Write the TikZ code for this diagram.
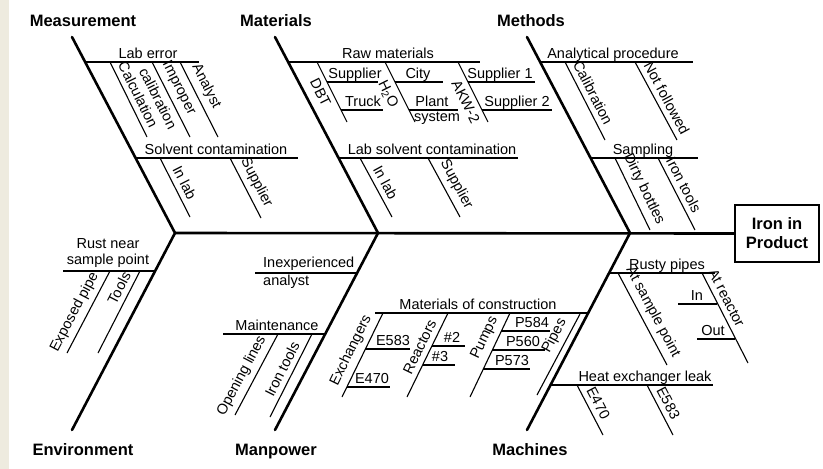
\documentclass[tikz,border=0pt]{standalone}
\usepackage{fontspec}
\setmainfont{Liberation Sans}
\definecolor{strip}{HTML}{EEEBDF}
\begin{document}
\begin{tikzpicture}[x=1pt,y=-1pt,
  bone/.style={line width=2.6pt, line join=round, line cap=round},
  twig/.style={line width=1.1pt},
  lbl/.style={font=\fontsize{14.5}{16.5}\selectfont, inner sep=1pt},
  hl/.style={lbl, anchor=base},
  up/.style={lbl, sloped, above=4pt},
  dn/.style={lbl, sloped, below=4pt},
  cat/.style={font=\bfseries\fontsize{16.5}{19}\selectfont, inner sep=0pt, anchor=base},
]
\useasboundingbox (0,0) rectangle (823,469);
\fill[white] (0,0) rectangle (823,469);
\fill[strip] (0,0) rectangle (9,469);

% main bones
\coordinate (meT) at (72,37);  \coordinate (J1) at (175,233); \coordinate (enB) at (72,430);
\coordinate (maT) at (275,37); \coordinate (J2) at (378,233); \coordinate (mpB) at (275,430);
\coordinate (mtT) at (527,37); \coordinate (J3) at (630,233); \coordinate (mcB) at (527,430);
\node[draw, line width=2pt, minimum width=84pt, minimum height=57pt, align=center,
      font=\bfseries\fontsize{16.5}{19}\selectfont] (eff) at (777,233.5) {Iron in\\Product};
\draw[bone] (meT) -- (J1) -- (enB);
\draw[bone] (maT) -- (J2) -- (mpB);
\draw[bone] (mtT) -- (J3) -- (mcB);
\draw[bone] (J1) -- (eff.west);

% category labels
\node[cat] (cMeas) at (83,26) {Measurement};
\node[cat] (cMat) at (276,26) {Materials};
\node[cat] (cMeth) at (531,26) {Methods};
\node[cat] (cEnv) at (83,455) {Environment};
\node[cat] (cMan) at (276,455) {Manpower};
\node[cat] (cMac) at (530,455) {Machines};

% Measurement
\draw[twig] (86,62) -- (199,62);
\node[hl] (tLab) at (148,58) {Lab error};
\draw[twig] (110,62) -- node[up] (tCalc) {Calculation} (147,137);
\draw[twig] (152,62) -- node[up, pos=.42] (tImp) {Improper} node[dn, pos=.42] (tCalib) {calibration} (190,137);
\draw[twig] (180,62) -- node[up, pos=.4] (tAna) {Analyst} (218,137);
\draw[twig] (136,158) -- (298,158);
\node[hl] (tSolv) at (216,154) {Solvent contamination};
\draw[twig] (160,158) -- node[up] (tInLabA) {In lab} (190,217);
\draw[twig] (230,158) -- node[up] (tSupA) {Supplier} (261,218);

% Materials
\draw[twig] (289,62) -- (480,62);
\node[hl] (tRaw) at (388,58) {Raw materials};
\draw[twig] (317,62) -- node[dn, pos=.43] (tDBT) {DBT} (347,122);
\draw[twig] (327,82) -- (378,82);
\node[hl] (tSupB) at (355,78) {Supplier};
\draw[twig] (341,110) -- (383,110);
\node[hl] (tTruck) at (363,106) {Truck};
\draw[twig] (385,62) -- node[dn, pos=.45] (tH2O) {H\textsubscript{2}O} (415,122);
\draw[twig] (395,82) -- (443,82);
\node[hl] (tCity) at (418,78) {City};
\draw[twig] (409,110) -- (458,110);
\node[hl] (tPlant) at (432,106) {Plant};
\node[hl] (tSys) at (437,121) {system};
\draw[twig] (458,62) -- node[dn, pos=.58] (tAKW) {AKW-2} (488,122);
\draw[twig] (468,82) -- (535,82);
\node[hl] (tSup1) at (500,78) {Supplier 1};
\draw[twig] (482,110) -- (552,110);
\node[hl] (tSup2) at (517,106) {Supplier 2};
\draw[twig] (339,158) -- (518,158);
\node[hl] (tLabSolv) at (432,154) {Lab solvent contamination};
\draw[twig] (360,158) -- node[up] (tInLabB) {In lab} (392,217);
\draw[twig] (428,158) -- node[up, pos=.55] (tSupC) {Supplier} (460,217);

% Methods
\draw[twig] (540,62) -- (693,62);
\node[hl] (tAP) at (613,58) {Analytical procedure};
\draw[twig] (565,62) -- node[up, pos=.46] (tCalibB) {Calibration} (605,140);
\draw[twig] (635,62) -- node[up, pos=.53] (tNF) {Not followed} (677,140);
\draw[twig] (591,158) -- (698,158);
\node[hl] (tSamp) at (643,154) {Sampling};
\draw[twig] (615,158) -- node[up, pos=.51] (tDirty) {Dirty bottles} (650,230);
\draw[twig] (658,158) -- node[up, pos=.44] (tIronA) {Iron tools} (695,230);

% Environment
\draw[twig] (63,271) -- (155,271);
\node[lbl, align=center, anchor=south] (tRust) at (108,269) {Rust near\\sample point};
\draw[twig] (67,353) -- node[up, pos=.43] (tExp) {Exposed pipe} (110,271);
\draw[twig] (98,353) -- node[up, pos=.73] (tTools) {Tools} (140,271);

% Manpower
\draw[twig] (255,273) -- (356,273);
\node[lbl, anchor=base west] (tInexp) at (262,267) {Inexperienced};
\node[lbl, anchor=base west] (tAnalyst) at (262,285) {analyst};
\draw[twig] (223,334) -- (325,334);
\node[hl] (tMaint) at (277,330) {Maintenance};
\draw[twig] (235,415) -- node[up, pos=.41] (tOpen) {Opening lines} (278,334);
\draw[twig] (270,417) -- node[up, pos=.52] (tIronB) {Iron tools} (312,334);

% Machines
\draw[twig] (375,313) -- (588,313);
\node[hl] (tMoC) at (478,309) {Materials of construction};
\draw[twig] (342,397) -- node[up, pos=.49] (tExch) {Exchangers} (383,313);
\draw[twig] (365,349) -- (410,349);
\node[hl] (tE583a) at (393,345) {E583};
\draw[twig] (347,387) -- (390,387);
\node[hl] (tE470a) at (372,383) {E470};
\draw[twig] (407,397) -- node[up, pos=.54] (tReac) {Reactors} (448,313);
\draw[twig] (432,346) -- (465,346);
\node[hl] (tR2) at (452,342) {\#2};
\draw[twig] (423,365) -- (455,365);
\node[hl] (tR3) at (440,361) {\#3};
\draw[twig] (470,397) -- node[up, pos=.64] (tPumps) {Pumps} (510,313);
\draw[twig] (501,331) -- (550,331);
\node[hl] (tP584) at (532,327) {P584};
\draw[twig] (492,350) -- (545,350);
\node[hl] (tP560) at (523,346) {P560};
\draw[twig] (483,369) -- (530,369);
\node[hl] (tP573) at (512,365) {P573};
\draw[twig] (537,395) -- node[up, pos=.66] (tPipes) {Pipes} (580,314);
\draw[twig] (609,273) -- (715,273);
\node[hl] (tRusty) at (667,269) {Rusty pipes};
\draw[twig] (618,273) -- node[up, pos=.49] (tASP) {At sample point} (667,365);
\draw[twig] (702,273) -- node[up, pos=.33] (tAR) {At reactor} (748,363);
\draw[twig] (678,304) -- (717,304);
\node[hl] (tIn) at (697,300) {In};
\draw[twig] (697,339) -- (735,339);
\node[hl] (tOut) at (713,335) {Out};
\draw[twig] (550,385) -- (713,385);
\node[hl] (tHEL) at (645,381) {Heat exchanger leak};
\draw[twig] (577,385) -- node[up, pos=.46] (tE470b) {E470} (603,435);
\draw[twig] (647,385) -- node[up, pos=.46] (tE583b) {E583} (673,435);
\end{tikzpicture}
\end{document}
